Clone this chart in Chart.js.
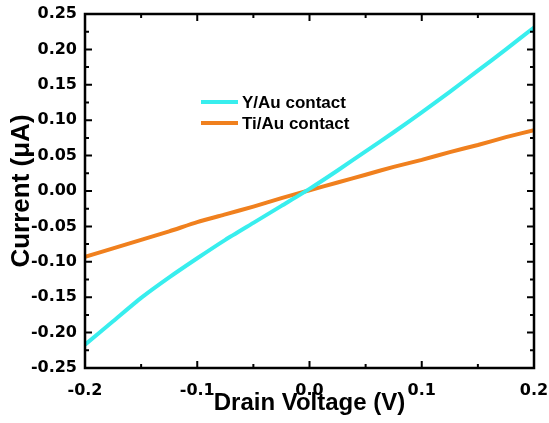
<!DOCTYPE html>
<html>
<head>
<meta charset="utf-8">
<script src="https://cdn.jsdelivr.net/npm/chart.js@4"></script>
<style>html,body{margin:0;padding:0;background:#fff}</style>
</head>
<body>
<canvas id="grafico" width="549" height="423"></canvas>
<script>
// drain voltage (V) and currents (uA)
const voltage = [-0.2,-0.175,-0.15,-0.125,-0.1,-0.075,-0.05,-0.025,0,0.025,0.05,0.075,0.1,0.125,0.15,0.175,0.2];
const yAu  = [-0.217,-0.184,-0.151,-0.122,-0.095,-0.069,-0.045,-0.021,0.003,0.029,0.056,0.083,0.111,0.140,0.170,0.200,0.231];
const tiAu = [-0.093,-0.081,-0.069,-0.057,-0.044,-0.033,-0.022,-0.010,0.001,0.012,0.023,0.034,0.044,0.055,0.065,0.076,0.086];
const seriesNames = ['Y/Au contact', 'Ti/Au contact'];
const colores = ['#38eeee', '#f0801e'];

const pts = arr => voltage.map((v,i)=>({x:v, y:arr[i]}));

// box round the plot + inward ticks on all four sides
const marco = {
  id:'marco',
  afterDatasetsDraw(chart){
    const {ctx, chartArea:a, scales:{x, y}} = chart;
    ctx.save();
    ctx.strokeStyle = '#000';
    ctx.lineWidth = 2;
    const xv = x.ticks.map(t=>t.value), yv = y.ticks.map(t=>t.value);
    const mids = v => v.slice(1).map((t,i)=>(t+v[i])/2);
    const tickX = (vals, len) => vals.forEach(v=>{
      const px = x.getPixelForValue(v);
      ctx.beginPath(); ctx.moveTo(px,a.bottom); ctx.lineTo(px,a.bottom-len);
      ctx.moveTo(px,a.top); ctx.lineTo(px,a.top+len); ctx.stroke();
    });
    const tickY = (vals, len) => vals.forEach(v=>{
      const py = y.getPixelForValue(v);
      ctx.beginPath(); ctx.moveTo(a.left,py); ctx.lineTo(a.left+len,py);
      ctx.moveTo(a.right,py); ctx.lineTo(a.right-len,py); ctx.stroke();
    });
    tickX(xv,7); tickX(mids(xv),4);
    tickY(yv,7); tickY(mids(yv),4);
    ctx.lineWidth = 2.5;
    ctx.strokeRect(a.left, a.top, a.right-a.left, a.bottom-a.top);

    // legend inside the plot
    ctx.font = 'bold 17px "Liberation Sans", Arial, sans-serif';
    ctx.textBaseline = 'middle';
    ctx.fillStyle = '#000';
    seriesNames.forEach((n,i)=>{
      const ly = 102 + i*21;
      ctx.strokeStyle = colores[i]; ctx.lineWidth = 4;
      ctx.beginPath(); ctx.moveTo(201,ly); ctx.lineTo(238,ly); ctx.stroke();
      ctx.fillText(n, 242, ly+1);
    });
    ctx.restore();
  }
};

new Chart(document.getElementById('grafico').getContext('2d'), {
  type:'scatter',
  data:{ datasets:[
    { label:seriesNames[0], data:pts(yAu), showLine:true, borderColor:colores[0], borderWidth:4, pointRadius:0, tension:0.2 },
    { label:seriesNames[1], data:pts(tiAu), showLine:true, borderColor:colores[1], borderWidth:4, pointRadius:0, tension:0.2 }
  ]},
  options:{
    responsive:false, animation:false,
    layout:{ padding:{ left:0, right:15, top:14, bottom:0 } },
    plugins:{ legend:{ display:false }, tooltip:{ enabled:false } },
    scales:{
      x:{
        min:-0.2, max:0.2,
        grid:{ display:false, drawTicks:false },
        border:{ display:false },
        ticks:{ stepSize:0.1, padding:13, color:'#000',
          font:{ family:'"DejaVu Sans"', weight:'bold', size:16 },
          callback:v=>(Math.abs(v)<1e-9?0:v).toFixed(1) },
        title:{ display:true, text:'Drain Voltage (V)', color:'#000', padding:{top:0,bottom:5},
          font:{ family:'"Liberation Sans", Arial', weight:'bold', size:24 } },
        afterFit:s=>{ s.height = 55; s.paddingLeft = 0; s.paddingRight = 0; }
      },
      y:{
        min:-0.25, max:0.25,
        grid:{ display:false, drawTicks:false },
        border:{ display:false },
        ticks:{ stepSize:0.05, padding:8, color:'#000',
          font:{ family:'"DejaVu Sans"', weight:'bold', size:16 },
          callback:v=>(Math.abs(v)<1e-9?0:v).toFixed(2) },
        title:{ display:true, text:'Current (\u03bcA)', color:'#000', padding:{top:6,bottom:0},
          font:{ family:'"Liberation Sans", Arial', weight:'bold', size:26 } },
        afterFit:s=>{ s.width = 85; s.paddingTop = 0; s.paddingBottom = 0; }
      }
    }
  },
  plugins:[marco]
});
</script>
</body>
</html>
